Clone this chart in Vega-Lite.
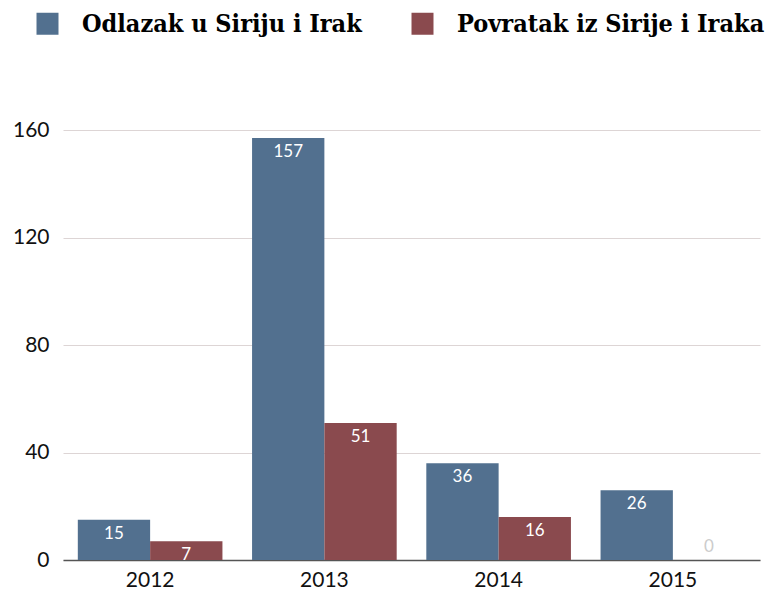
{
  "$schema": "https://vega.github.io/schema/vega-lite/v6.json",
  "autosize": {"type": "none"},
  "padding": {"left": 63, "top": 130, "right": 8, "bottom": 35},
  "width": 697,
  "height": 430,
  "background": "white",
  "config": {"view": {"stroke": null}},
  "data": {"values": [
    {"year": "2012", "series": "Odlazak u Siriju i Irak", "value": 15},
    {"year": "2012", "series": "Povratak iz Sirije i Iraka", "value": 7},
    {"year": "2013", "series": "Odlazak u Siriju i Irak", "value": 157},
    {"year": "2013", "series": "Povratak iz Sirije i Iraka", "value": 51},
    {"year": "2014", "series": "Odlazak u Siriju i Irak", "value": 36},
    {"year": "2014", "series": "Povratak iz Sirije i Iraka", "value": 16},
    {"year": "2015", "series": "Odlazak u Siriju i Irak", "value": 26},
    {"year": "2015", "series": "Povratak iz Sirije i Iraka", "value": 0}
  ]},
  "encoding": {
    "x": {"field": "year", "type": "nominal", "title": null,
      "scale": {"paddingInner": 0.17, "paddingOuter": 0.085},
      "axis": {"labelAngle": 0, "labelFont": "Lato", "labelFontSize": 21, "labelColor": "#111", "labelPadding": 9, "ticks": false, "domainColor": "#555", "domainWidth": 1.5}},
    "xOffset": {"field": "series", "type": "nominal", "sort": ["Odlazak u Siriju i Irak", "Povratak iz Sirije i Iraka"], "scale": {"paddingInner": 0, "paddingOuter": 0}},
    "y": {"field": "value", "type": "quantitative", "title": null,
      "scale": {"domain": [0, 160]},
      "axis": {"values": [0, 40, 80, 120, 160], "labelFont": "Lato", "labelFontSize": 21, "labelColor": "#111", "labelPadding": 14, "ticks": false, "domain": false, "gridColor": "#ddd5d5", "gridWidth": 1}}
  },
  "layer": [
    {
      "mark": {"type": "bar"},
      "encoding": {
        "color": {"field": "series", "type": "nominal", "title": null,
          "sort": ["Odlazak u Siriju i Irak", "Povratak iz Sirije i Iraka"],
          "scale": {"domain": ["Odlazak u Siriju i Irak", "Povratak iz Sirije i Iraka"], "range": ["#52708f", "#8a4a4e"]},
          "legend": {"orient": "none", "legendX": -28, "legendY": -119, "direction": "horizontal", "columns": 2, "columnPadding": 48,
            "symbolType": "square", "symbolSize": 484, "symbolStrokeWidth": 0, "symbolOpacity": 1, "labelOffset": 22,
            "labelFont": "DejaVu Serif Condensed", "labelFontWeight": "bold", "labelFontSize": 25, "labelColor": "#000", "labelLimit": 0}}
      }
    },
    {
      "transform": [{"filter": "datum.value > 0"}],
      "mark": {"type": "text", "baseline": "top", "dy": 6, "color": "white", "font": "Lato", "fontSize": 17},
      "encoding": {"text": {"field": "value", "type": "quantitative"}}
    },
    {
      "transform": [{"filter": "datum.value == 0"}],
      "mark": {"type": "text", "baseline": "bottom", "dy": -4, "color": "#cccccc", "font": "Lato", "fontSize": 17},
      "encoding": {"text": {"field": "value", "type": "quantitative"}}
    }
  ]
}
